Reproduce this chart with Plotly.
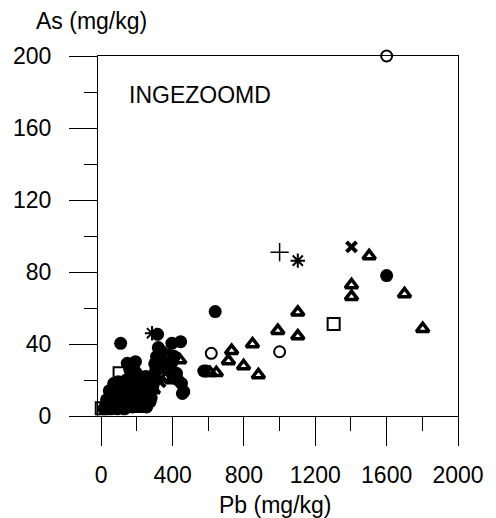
import plotly.graph_objects as go

# ---- data (Pb mg/kg, As mg/kg) ----
filled_pb = [109, 316, 396, 445, 341, 146, 192, 639, 1600, 385, 394, 422, 450, 463, 455, 430,
             300, 305, 300, 290, 310, 330, 352, 274, 280, 250, 575, 370, 410, 320, 160, 178,
             15, 25, 40, 55, 70, 90, 110, 130, 150, 175, 200, 225, 245,
             30, 50, 70, 90, 110, 130, 150, 170, 190, 215, 240,
             45, 65, 85, 105, 125, 145, 165, 185, 205, 230,
             70, 95, 120, 140, 160, 180, 200, 220, 250, 265, 275, 255, 60, 100, 160, 140]
filled_as = [40.4, 45.4, 40.4, 41.3, 34.8, 29.3, 30.2, 58, 78, 29.4, 29.3, 23.7, 18.1, 13.5, 12.5, 20,
             29, 25, 21, 17, 33, 31, 30, 8, 10, 9, 25, 26, 33, 38, 26, 24,
             4, 6, 5, 4, 5, 4, 5, 4, 5, 5, 6, 8, 9,
             9, 10, 9, 10, 9, 10, 9, 10, 11, 12, 12,
             14, 15, 13, 14, 15, 13, 14, 15, 16, 17,
             18, 19, 18, 20, 19, 21, 22, 20, 22, 14, 18, 5, 12, 7, 7, 16]

tri_pb = [200, 440, 292, 990, 731, 848, 713, 798, 881, 610, 645, 1102, 1102, 1403, 1403,
          1502, 1700, 1802, 395, 190, 360]
tri_as = [24.6, 31.1, 14.4, 47.4, 36.3, 40, 30.6, 27.8, 22.8, 24, 24, 57.6, 44.4, 72.8, 66.3,
          88.9, 67.8, 48.5, 20, 5, 21]

open_pb = [1600, 617, 1000, 588]
open_as = [200, 34.8, 35.7, 25]

sq_pb = [103, 1303, 3, 211]
sq_as = [23.7, 51.1, 4.3, 5.6]

x_pb = [1403, 348, 330]
x_as = [94, 25.6, 19]

ast_pb = [1102, 285, 380]
ast_as = [86.3, 46, 36]

plus_pb = [1000]
plus_as = [91]

x_ticks = [0, 400, 800, 1200, 1600, 2000]
y_ticks = [0, 40, 80, 120, 160, 200]

FONT = "Arial, Liberation Sans, sans-serif"
FS = 23

fig = go.Figure()
fig.add_trace(go.Scatter(x=filled_pb, y=filled_as, mode="markers", cliponaxis=False,
                         marker=dict(symbol="circle", size=13, color="black", line=dict(width=0))))
fig.add_trace(go.Scatter(x=open_pb, y=open_as, mode="markers", cliponaxis=False,
                         marker=dict(symbol="circle-open", size=11, color="black", line=dict(width=2))))
fig.add_trace(go.Scatter(x=tri_pb, y=tri_as, mode="markers", cliponaxis=False,
                         marker=dict(symbol="triangle-up-open", size=11, color="black", line=dict(width=3.5))))
fig.add_trace(go.Scatter(x=sq_pb, y=sq_as, mode="markers", cliponaxis=False,
                         marker=dict(symbol="square-open", size=12, color="black", line=dict(width=2))))
fig.add_trace(go.Scatter(x=x_pb, y=x_as, mode="markers", cliponaxis=False,
                         marker=dict(symbol="x-thin-open", size=10, color="black", line=dict(width=4))))
fig.add_trace(go.Scatter(x=ast_pb, y=ast_as, mode="markers", cliponaxis=False,
                         marker=dict(symbol="asterisk-open", size=12, color="black", line=dict(width=2))))
fig.add_trace(go.Scatter(x=plus_pb, y=plus_as, mode="markers", cliponaxis=False,
                         marker=dict(symbol="cross-thin-open", size=13, color="black", line=dict(width=1.5))))

fig.update_layout(
    width=496, height=518,
    margin=dict(l=98, r=36, t=56, b=102),
    paper_bgcolor="white", plot_bgcolor="white",
    showlegend=False,
    font=dict(family=FONT, size=FS, color="black"),
    xaxis=dict(range=[-18, 2000], showgrid=False, zeroline=False,
               showline=True, mirror=True, linecolor="black", linewidth=1,
               ticks="outside", ticklen=29, tickwidth=1, tickcolor="black",
               tickvals=x_ticks, ticktext=[str(v) for v in x_ticks],
               ticklabelstandoff=9,
               minor=dict(tickvals=[200, 600, 1000, 1400, 1800], ticklen=14,
                          ticks="outside", tickcolor="black", tickwidth=1, showgrid=False),
               tickfont=dict(family=FONT, size=FS)),
    yaxis=dict(range=[0, 200], showgrid=False, zeroline=False,
               showline=True, mirror=True, linecolor="black", linewidth=1,
               ticks="outside", ticklen=28, tickwidth=1, tickcolor="black",
               tickvals=y_ticks, ticktext=[str(v) for v in y_ticks],
               ticklabelstandoff=13,
               minor=dict(tickvals=[20, 60, 100, 140, 180], ticklen=13,
                          ticks="outside", tickcolor="black", tickwidth=1, showgrid=False),
               tickfont=dict(family=FONT, size=FS)),
    annotations=[
        dict(text="As (mg/kg)", xref="paper", yref="paper", x=(91.5 - 98) / 362, y=(416 - 21) / 360,
             xanchor="center", yanchor="middle", showarrow=False, font=dict(size=FS)),
        dict(text="INGEZOOMD", xref="paper", yref="paper", x=(201 - 98) / 362, y=(416 - 95) / 360,
             xanchor="center", yanchor="middle", showarrow=False, font=dict(size=FS)),
        dict(text="Pb (mg/kg)", xref="paper", yref="paper", x=(276 - 98) / 362, y=(416 - 505) / 360,
             xanchor="center", yanchor="middle", showarrow=False, font=dict(size=FS)),
    ],
)

fig.write_html("out.html")
